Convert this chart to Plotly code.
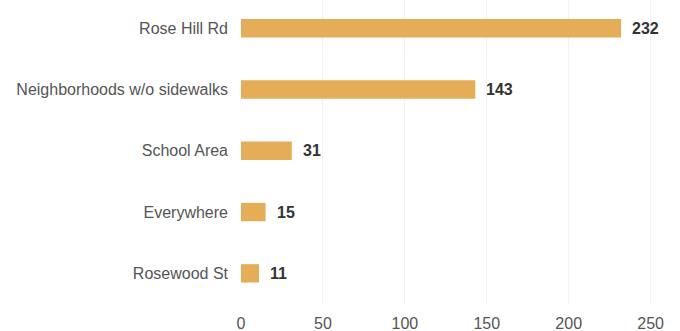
import plotly.graph_objects as go

categories = ["Rose Hill Rd", "Neighborhoods w/o sidewalks", "School Area", "Everywhere", "Rosewood St"]
counts = [232, 143, 31, 15, 11]
x_ticks = [0, 50, 100, 150, 200, 250]

bar_color = "#E6AD58"
font_family = "Liberation Sans, Arial, sans-serif"

fig = go.Figure(
    go.Bar(
        x=counts,
        y=categories,
        orientation="h",
        marker=dict(color=bar_color, line=dict(width=0)),
        width=0.3,
        hoverinfo="x+y",
    )
)

# value labels just past the end of each bar
for cat, val in zip(categories, counts):
    fig.add_annotation(
        x=val, y=cat, text=f"<b>{val}</b>", showarrow=False,
        xanchor="left", xshift=9,
        font=dict(family=font_family, size=16, color="#333333"),
    )

fig.update_layout(
    width=680, height=331,
    margin=dict(l=241, r=13, t=0, b=27),
    paper_bgcolor="white", plot_bgcolor="white",
    showlegend=False,
    font=dict(family=font_family, size=16, color="#555555"),
)
fig.update_xaxes(
    range=[0, 260], tickvals=x_ticks, showgrid=True, gridcolor="#f3f3f3",
    zeroline=False, showline=False, ticks="",
    ticklabelstandoff=8,
    tickfont=dict(size=16, color="#555555"),
)
fig.update_yaxes(
    categoryorder="array", categoryarray=categories,
    range=[4.5, -0.46], showgrid=False, showline=False, ticks="",
    ticklabelstandoff=12,
    tickfont=dict(size=16, color="#555555"),
)

fig.write_html("out.html")
